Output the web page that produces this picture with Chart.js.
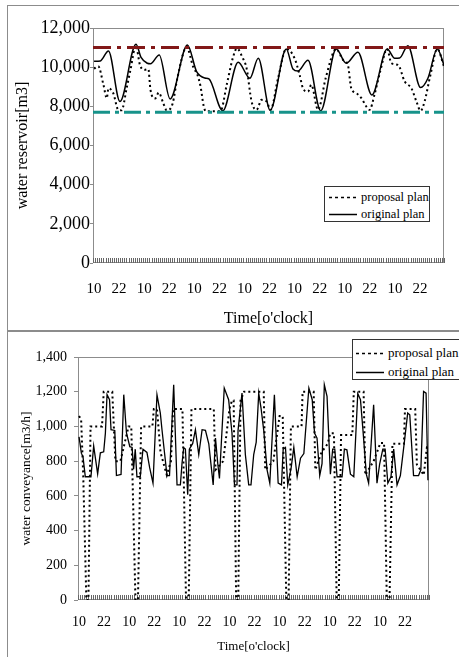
<!DOCTYPE html>
<html>
<head>
<meta charset="utf-8">
<script src="https://cdn.jsdelivr.net/npm/chart.js@4.4.1/dist/chart.umd.min.js"></script>
<style>
  body { margin: 0; background: #fff; }
  #page { position: relative; width: 459px; height: 657px; overflow: hidden; font-family: 'Liberation Serif', 'Times New Roman', serif; }
  .panel { position: absolute; border: 1px solid #8c8c8c; box-sizing: border-box; }
  canvas { position: absolute; left: 0; }
  .legend { position: absolute; background: #fff; border: 1px solid #333; box-sizing: border-box; color: #000; }
  .legend .row { position: absolute; left: 0; height: 16px; line-height: 16px; white-space: nowrap; }
  .legend svg { position: absolute; top: 7px; }
  .legend span { position: absolute; top: 0; }
</style>
</head>
<body>
<div id="page">
  <div class="panel" style="left:7px;top:5px;width:470px;height:326px"></div>
  <div class="panel" style="left:7px;top:331px;width:470px;height:340px"></div>
  <canvas id="storageChart" width="459" height="331" style="top:0"></canvas>
  <canvas id="flowChart" width="459" height="326" style="top:331px"></canvas>

  <div class="legend" style="left:324px;top:186px;width:106px;height:36px;font-size:12.5px">
    <div class="row" style="top:2px;width:106px">
      <svg width="28" height="3" style="left:4px"><line x1="0" y1="1.5" x2="28" y2="1.5" stroke="#000" stroke-width="1.5" stroke-dasharray="3,3"/></svg>
      <span style="left:36px">proposal plan</span>
    </div>
    <div class="row" style="top:19px;width:106px">
      <svg width="28" height="3" style="left:4px"><line x1="0" y1="1.5" x2="28" y2="1.5" stroke="#000" stroke-width="1.5"/></svg>
      <span style="left:36px">original plan</span>
    </div>
  </div>

  <div class="legend" style="left:352px;top:339px;width:130px;height:41px;font-size:13px">
    <div class="row" style="top:5px;width:130px">
      <svg width="28" height="3" style="left:3px"><line x1="0" y1="1.5" x2="28" y2="1.5" stroke="#000" stroke-width="1.5" stroke-dasharray="3,3"/></svg>
      <span style="left:35px">proposal plan</span>
    </div>
    <div class="row" style="top:24px;width:130px">
      <svg width="28" height="3" style="left:3px"><line x1="0" y1="1.5" x2="28" y2="1.5" stroke="#000" stroke-width="1.5"/></svg>
      <span style="left:35px">original plan</span>
    </div>
  </div>
</div>

<script>
// hours counted from the first 10 o'clock, one week
const tickHours = [0, 12, 24, 36, 48, 60, 72, 84, 96, 108, 120, 132, 144, 156];
const tickLabels = ['10', '22', '10', '22', '10', '22', '10', '22', '10', '22', '10', '22', '10', '22'];

// water reservoir [m3]
const storageLimits = [11000, 7700];
const storageOrigHours = [0, 3, 6.9, 12.4, 20.1, 22.5, 25.5, 27, 31.2, 36.4, 44.7, 49.1, 53, 55, 61.6, 69, 74.6, 78.6, 84.3, 92,
    95.2, 97.6, 102.4, 108.5, 115.9, 120.7, 126.3, 133, 140.3, 143.9, 146.3, 150.2, 156.3, 159.8, 164.3, 167.5];
const storageOrig = [10300, 10320, 10830, 8245, 11170, 10500, 10200, 10170, 10625, 8380, 11135, 9775, 9450, 9400, 7770, 10250, 9435, 10455, 7800, 10930,
    9910, 9800, 10350, 7770, 10930, 10200, 10760, 8585, 10930, 10455, 10470, 11100, 8960, 9435, 10930, 10100];
const storagePropHours = [0, 2, 4.5, 6.1, 6.9, 9.2, 11.6, 13.2, 15.6, 17.5, 20, 22, 24, 26, 27, 29.2, 31, 33, 34.8, 37.5,
    40, 44.3, 47.5, 49.5, 51, 52.5, 53.5, 60.5, 63.5, 66.5, 68.4, 71, 73, 75.4, 77.8, 80.2, 82.6, 84.5, 88, 92,
    96, 98.4, 100, 102.4, 104, 107.2, 111, 115.9, 119.2, 121.5, 123.1, 125.6, 128, 130.3, 131.9, 134.2, 137, 140.3, 142.3, 145.5,
    148.7, 151.9, 154.3, 156.3, 158.2, 161, 164.3, 167.5];
const storageProp = [9925, 10050, 9100, 8415, 8925, 8670, 7820, 7800, 8925, 9900, 11100, 10100, 9860, 9900, 8850, 8400, 8700, 8200, 7800, 8100,
    9500, 11020, 10000, 9600, 9000, 8000, 7750, 7750, 9100, 10500, 10960, 10500, 9950, 8250, 7820, 8330, 8250, 7820, 9400, 10930,
    10450, 9600, 8925, 8750, 9100, 7820, 9500, 10930, 10370, 10115, 8925, 8670, 8415, 7990, 7820, 8585, 9800, 10930, 10200, 10115,
    9265, 8925, 8245, 7770, 8245, 9600, 10930, 10030];

// water conveyance [m3/h]
const flowOrigHours = [0, 1.1, 1.9, 3, 5.7, 7, 8.9, 10.2, 11.8, 12.6, 13.4, 14.6, 15.3, 17.1, 17.9, 20.1, 21.4, 22.7, 24.3, 25.4,
    26.1, 26.9, 27.7, 29.3, 30.6, 32.5, 33.8, 35.4, 37.3, 38.9, 39.7, 42.1, 43.3, 45.3, 46.9, 48.5, 49.3, 50.1, 50.9, 52,
    52.8, 54.4, 55.7, 57.3, 58.9, 60.5, 62.1, 64.2, 65.3, 66.4, 67.2, 69.5, 71.6, 73.2, 74.4, 75.6, 76.1, 78, 79.6, 81.2,
    82.3, 83.6, 84.8, 86, 87.1, 88.4, 90, 91.3, 93.5, 95.3, 96.9, 97.7, 98.8, 99.9, 101.5, 102.8, 104.4, 106, 107.6, 110,
    111.6, 112.7, 113.9, 115.2, 116.3, 117.4, 118.7, 120.3, 121.4, 122.4, 123.5, 125.9, 127, 128.2, 129.9, 131.5, 133.4, 134.7, 135.9, 137.5,
    138.6, 141, 142.6, 143.9, 145.4, 146.5, 147.8, 149.3, 150.6, 152.2, 153.8, 155.7, 157.3, 158.3, 160.1, 162.5, 163.6, 164.9, 166.1, 167];
const flowOrig = [940, 846, 825, 710, 710, 888, 727, 848, 854, 960, 1183, 1154, 981, 977, 717, 723, 1183, 962, 883, 879,
    754, 869, 710, 710, 869, 850, 762, 673, 1183, 1077, 981, 717, 717, 1240, 663, 663, 789, 877, 870, 606,
    869, 902, 981, 838, 981, 977, 900, 663, 933, 785, 700, 1221, 1154, 962, 663, 663, 977, 1192, 838, 663,
    663, 838, 910, 1192, 1106, 977, 750, 673, 1183, 673, 663, 869, 879, 663, 760, 879, 710, 817, 844, 1221,
    1154, 962, 933, 717, 785, 1240, 1173, 725, 869, 869, 710, 710, 869, 865, 725, 710, 1190, 1154, 977, 725,
    673, 1125, 673, 785, 869, 869, 673, 710, 869, 663, 717, 910, 1077, 1067, 717, 717, 750, 1202, 1192, 690];
const flowPropHours = [0, 1, 2, 3.5, 4.5, 5.5, 11, 11.8, 15.9, 17.4, 19.8, 23.7, 25, 27, 28.2, 29.7, 35.1, 35.8, 37.3, 39,
    42, 44, 45, 49.5, 51.2, 52.5, 53.8, 64.5, 65.3, 69, 72, 73.2, 74, 75.2, 76.2, 77.3, 79, 88.4, 89.1, 93,
    96, 97.5, 99.2, 100.3, 101.4, 106.5, 107, 112.3, 113.1, 116, 119, 120.2, 122, 123.3, 124.3, 125.4, 130.8, 131.5, 136.2, 137,
    141, 143.5, 144.2, 146, 147.3, 148.6, 150, 155.5, 156, 160.9, 161.7, 165, 166.5, 167.5];
const flowProp = [1060, 1040, 720, 0, 0, 1000, 1000, 1200, 1200, 800, 800, 1000, 1000, 0, 0, 1000, 1000, 1100, 1100, 850,
    720, 800, 1100, 1100, 0, 0, 1100, 1100, 750, 800, 1100, 1150, 1150, 0, 0, 1150, 1200, 1200, 750, 800,
    1060, 1060, 0, 0, 1000, 1000, 1200, 1200, 750, 850, 900, 960, 960, 0, 0, 950, 950, 1200, 1200, 720,
    800, 880, 905, 905, 0, 0, 900, 900, 1100, 1100, 780, 720, 880, 880];

const HOUR_MIN = -0.5;
const HOUR_MAX = 167.5;

Chart.defaults.font.family = "'Liberation Serif', 'Times New Roman', serif";
Chart.defaults.color = '#000';

const toPoints = (xs, ys) => xs.map((x, i) => ({ x: x, y: ys[i] }));

// plot frame + the small hourly tick marks pointing into the plot
const framePlugin = {
    id: 'frame',
    beforeDatasetsDraw(chart) {
        const { ctx, chartArea: a, scales: { x } } = chart;
        ctx.save();
        ctx.strokeStyle = '#8c8c8c';
        ctx.lineWidth = 1;
        ctx.strokeRect(a.left + 0.5, a.top + 0.5, a.width - 1, a.height - 1);
        ctx.strokeStyle = '#666';
        ctx.beginPath();
        for (let h = HOUR_MIN; h <= HOUR_MAX + 0.01; h++) {
            const px = Math.round(x.getPixelForValue(h)) + 0.5;
            ctx.moveTo(px, a.bottom);
            ctx.lineTo(px, a.bottom - 5);
        }
        ctx.stroke();
        ctx.restore();
    }
};

function timeAxis(tickSize, titleSize, tickPad, height) {
    return {
        type: 'linear',
        min: HOUR_MIN,
        max: HOUR_MAX,
        grid: { display: false, drawTicks: false },
        border: { display: false },
        afterBuildTicks: s => { s.ticks = tickHours.map(v => ({ value: v })); },
        ticks: {
            autoSkip: false,
            maxRotation: 0,
            padding: tickPad,
            font: { size: tickSize },
            callback: (v) => tickLabels[tickHours.indexOf(v)]
        },
        title: { display: true, text: "Time[o'clock]", font: { size: titleSize }, padding: { top: 0, bottom: 3 } },
        afterFit: s => { s.height = height; }
    };
}

function valueAxis(max, step, tickSize, titleSize, title, tickLen, tickPad, titlePad, width) {
    return {
        min: 0,
        max: max,
        grid: { drawOnChartArea: false, drawTicks: true, tickLength: tickLen, color: '#8c8c8c' },
        border: { display: false },
        ticks: { stepSize: step, padding: tickPad, font: { size: tickSize }, callback: v => v.toLocaleString('en-US') },
        title: { display: true, text: title, font: { size: titleSize }, padding: { top: titlePad, bottom: 0 } },
        afterFit: s => { s.width = width; }
    };
}

function limitLine(value, color, dash) {
    return {
        data: [{ x: HOUR_MIN, y: value }, { x: HOUR_MAX, y: value }],
        borderColor: color,
        borderWidth: 3,
        borderDash: dash,
        pointRadius: 0
    };
}

new Chart(document.getElementById('storageChart'), {
    type: 'line',
    data: {
        datasets: [
            limitLine(storageLimits[0], '#821818', [18, 6, 4, 6]),
            limitLine(storageLimits[1], '#17938a', [17, 5, 4, 5]),
            {
                label: 'proposal plan',
                data: toPoints(storagePropHours, storageProp),
                borderColor: '#000',
                borderWidth: 2,
                borderDash: [2, 3],
                cubicInterpolationMode: 'monotone',
                pointRadius: 0
            },
            {
                label: 'original plan',
                data: toPoints(storageOrigHours, storageOrig),
                borderColor: '#000',
                borderWidth: 1.5,
                cubicInterpolationMode: 'monotone',
                pointRadius: 0
            }
        ]
    },
    options: {
        responsive: false,
        animation: false,
        layout: { padding: { top: 28, right: 15, bottom: 0, left: 0 } },
        plugins: { legend: { display: false }, tooltip: { enabled: false } },
        scales: {
            x: timeAxis(15, 16, 17, 68),
            y: valueAxis(12000, 2000, 18, 16, 'water reservoir[m3]', 3, 0, 13, 93)
        }
    },
    plugins: [framePlugin]
});

new Chart(document.getElementById('flowChart'), {
    type: 'line',
    data: {
        datasets: [
            {
                label: 'proposal plan',
                data: toPoints(flowPropHours, flowProp),
                borderColor: '#000',
                borderWidth: 2,
                borderDash: [2, 3],
                pointRadius: 0
            },
            {
                label: 'original plan',
                data: toPoints(flowOrigHours, flowOrig),
                borderColor: '#000',
                borderWidth: 1.3,
                pointRadius: 0
            }
        ]
    },
    options: {
        responsive: false,
        animation: false,
        layout: { padding: { top: 26, right: 30, bottom: 0, left: 0 } },
        plugins: { legend: { display: false }, tooltip: { enabled: false } },
        scales: {
            x: timeAxis(14, 13, 14, 57),
            y: valueAxis(1400, 200, 14, 13.5, 'water conveyance[m3/h]', 4, 7, 18, 78)
        }
    },
    plugins: [framePlugin]
});
</script>
</body>
</html>
